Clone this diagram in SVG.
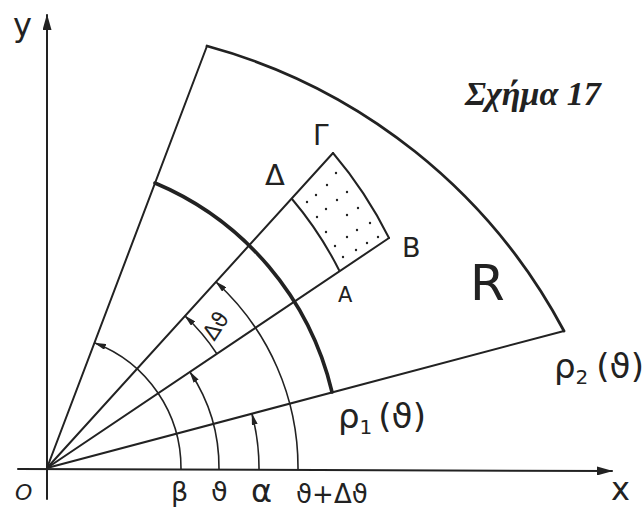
<svg xmlns="http://www.w3.org/2000/svg" width="644" height="509" viewBox="0 0 644 509">
<style>
.ln{fill:none;stroke:#222;stroke-width:2;stroke-linecap:round}
.arc{fill:none;stroke:#222;stroke-width:1.6}
.thk{fill:none;stroke:#222;stroke-width:3.6;stroke-linecap:round}
.bnd{fill:none;stroke:#222;stroke-width:2.8;stroke-linecap:round;stroke-linejoin:round}
.hw{font-family:"DejaVu Sans","Liberation Sans",sans-serif;fill:#222}
.dot{fill:#222}
</style>
<defs>
<marker id="ah" viewBox="0 0 12 6" refX="11" refY="3" markerWidth="12" markerHeight="6" markerUnits="userSpaceOnUse" orient="auto"><path d="M0,0 L12,3 L0,6 z" fill="#222"/></marker>
<marker id="ax" viewBox="0 0 16 9" refX="15" refY="4.5" markerWidth="16" markerHeight="9" markerUnits="userSpaceOnUse" orient="auto"><path d="M0,0 L16,4.5 L0,9 z" fill="#222"/></marker>
</defs>
<rect width="644" height="509" fill="#fff"/>
<g id="axes">
<line class="ln" x1="18" y1="469" x2="612" y2="471" marker-end="url(#ax)"/>
<line class="ln" x1="47" y1="499" x2="47" y2="15" marker-end="url(#ax)"/>
</g>
<g id="rays">
<line class="ln" x1="47" y1="468" x2="207" y2="46"/>
<line class="ln" x1="47" y1="468" x2="333" y2="153"/>
<line class="ln" x1="47" y1="468" x2="389" y2="238"/>
<line class="ln" x1="47" y1="468" x2="564" y2="331"/>
</g>
<g id="region">
<path class="bnd" d="M207,46 A575,575 0 0 1 564,331"/>
<path class="thk" d="M155,183 A302,302 0 0 1 332,392"/>
</g>
<g id="element">
<path class="ln" d="M333,153 A420,420 0 0 1 389,238"/>
<path class="ln" d="M292,199 A360,360 0 0 1 339,270"/>
<g class="dot">
<circle cx="336" cy="173" r="1.2"/><circle cx="327" cy="185" r="1.2"/><circle cx="347" cy="192" r="1.2"/>
<circle cx="316" cy="195" r="1.2"/><circle cx="337" cy="200" r="1.2"/><circle cx="307" cy="202" r="1.2"/>
<circle cx="358" cy="208" r="1.2"/><circle cx="326" cy="209" r="1.2"/><circle cx="347" cy="215" r="1.2"/>
<circle cx="317" cy="217" r="1.2"/><circle cx="370" cy="223" r="1.2"/><circle cx="326" cy="232" r="1.2"/>
<circle cx="357" cy="230" r="1.2"/><circle cx="347" cy="237" r="1.2"/><circle cx="378" cy="237" r="1.2"/>
<circle cx="367" cy="243" r="1.2"/><circle cx="335" cy="246" r="1.2"/><circle cx="356" cy="250" r="1.2"/>
<circle cx="343" cy="257" r="1.2"/>
</g>
</g>
<g id="angle-arcs">
<path class="arc" d="M181,469 A134,134 0 0 0 95,343" marker-end="url(#ah)"/>
<path class="arc" d="M219,469 A172,172 0 0 0 190,372" marker-end="url(#ah)"/>
<path class="arc" d="M259,470 A212,212 0 0 0 252,414" marker-end="url(#ah)"/>
<path class="arc" d="M298,470 A251,251 0 0 0 216,282" marker-end="url(#ah)"/>
<path class="arc" d="M217,354 A205,205 0 0 0 185,316" marker-end="url(#ah)"/>
</g>
<g id="labels">
<text class="hw" x="13" y="36" font-size="32">y</text>
<text class="hw" x="15" y="500" font-size="22" font-style="italic">O</text>
<text class="hw" x="171" y="501" font-size="27">β</text>
<text class="hw" x="211" y="501" font-size="27">ϑ</text>
<text class="hw" x="251" y="502" font-size="32">α</text>
<text class="hw" x="296" y="503" font-size="26">ϑ+Δϑ</text>
<text class="hw" x="611" y="500" font-size="32">x</text>
<text class="hw" x="338" y="428" font-size="34">ρ<tspan font-size="20" dy="6">1</tspan><tspan dy="-6" dx="6">(ϑ)</tspan></text>
<text class="hw" x="554" y="378" font-size="34">ρ<tspan font-size="20" dy="6">2</tspan><tspan dy="-6" dx="8">(ϑ)</tspan></text>
<text class="hw" x="470" y="300" font-size="50">R</text>
<text class="hw" x="338" y="302" font-size="21">A</text>
<text class="hw" x="402" y="257" font-size="27">B</text>
<text class="hw" x="265" y="185" font-size="29">Δ</text>
<text class="hw" x="313" y="145" font-size="28">Γ</text>
<text class="hw" x="0" y="0" font-size="22" transform="translate(222,330) rotate(-57)" text-anchor="middle">Δϑ</text>
<text x="465" y="105" font-family="'Liberation Serif',serif" font-size="34" font-style="italic" font-weight="bold" fill="#222">Σχήμα 17</text>
</g>
</svg>
